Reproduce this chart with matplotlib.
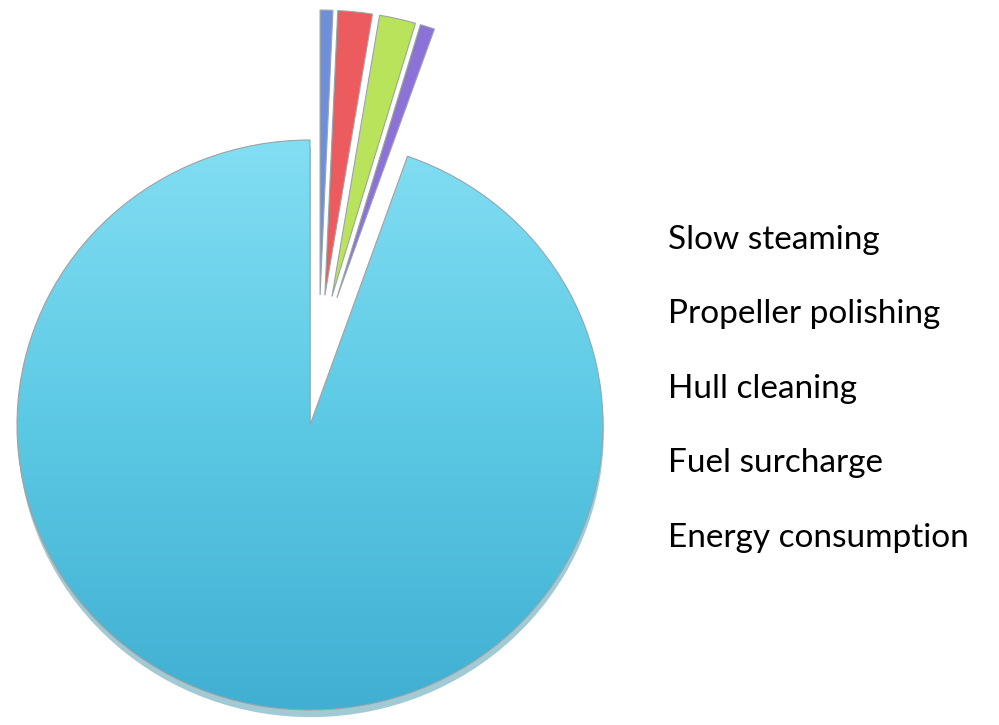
import matplotlib.pyplot as plt
import matplotlib.patches as mpatches
import numpy as np
from matplotlib.colors import LinearSegmentedColormap

# Share of each measure (%)
labels = ["Slow steaming", "Propeller polishing", "Hull cleaning", "Fuel surcharge", "Energy consumption"]
shares = [0.7, 1.9, 2.0, 0.8, 94.6]
colors = ["#6f90d8", "#ec5b5d", "#b9e35a", "#8c72d6", "#5cc6e0"]
explode = [0.2, 0.2, 0.2, 0.2, 0.0]

fig = plt.figure(figsize=(9.99, 7.25), dpi=100)
ax = fig.add_axes([0, 0, 1, 1])

wedges, _ = ax.pie(shares, colors=colors, explode=explode, startangle=90,
                   counterclock=False, radius=1.0,
                   wedgeprops=dict(edgecolor="#9aa4a8", linewidth=0.8))

# the small slices are pulled out together as a group
group_shift = (0.03, 0.256)
for w in wedges[:-1]:
    cx, cy = w.center
    w.set_center((cx + group_shift[0], cy + group_shift[1]))

big = wedges[-1]
# soft shadow under the big slice
shadow = mpatches.Shadow(big, 0.002, -0.018)
shadow.set_facecolor("#2f8aa3")
shadow.set_edgecolor("none")
shadow.set_alpha(0.45)
shadow.set_zorder(big.get_zorder() - 0.5)
ax.add_patch(shadow)

# vertical gradient on the big slice
cmap = LinearSegmentedColormap.from_list("aqua", ["#40afd2", "#5cc9e4", "#82def3"])
grad = np.linspace(0, 1, 256).reshape(-1, 1)
im = ax.imshow(grad, extent=(-1, 1, -1, 1), origin="lower", cmap=cmap,
               aspect="auto", zorder=big.get_zorder() - 0.1, clip_path=big)
big.set_facecolor("none")

# pie centre at (310, 425) px, slightly squashed vertically like the picture
ax.set_aspect("auto")
ax.set_xlim(-310 / 293, (999 - 310) / 293)
ax.set_ylim(-(725 - 425) / 285, 425 / 285)
ax.axis("off")

# legend text (no markers in the original)
for i, lab in enumerate(labels):
    y = 249 + i * 74.5
    fig.text(668 / 999, 1 - y / 725, lab, fontsize=24, family="Lato",
             color="black", va="baseline", ha="left")

fig.savefig("out.png", dpi=100, facecolor="white")
